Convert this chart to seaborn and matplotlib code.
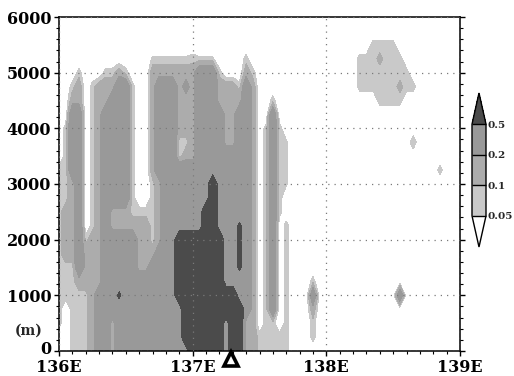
import numpy as np
import matplotlib
matplotlib.use("Agg")
import matplotlib.pyplot as plt
import matplotlib.transforms as mtransforms
from matplotlib.ticker import MultipleLocator
import seaborn as sns

sns.set_theme(style="ticks")
plt.rcParams["font.family"] = "DejaVu Serif"
plt.rcParams["font.weight"] = "bold"

# ---------------------------------------------------------
# Data: shaded field.
# One string per longitude (136E..139E every 0.05 deg),
# characters go bottom -> top every 250 m (0..6000 m).
# ---------------------------------------------------------
lons = np.linspace(136.0, 139.0, 61)
heights = np.arange(0, 6001, 250)

code_values = {"0": 0.0, "a": 0.06, "1": 0.075, "c": 0.095, "b": 0.12,
               "2": 0.15, "d": 0.25, "3": 0.35, "5": 0.55, "4": 0.8}

columns = [
    "0011111111111100000000000",  # 136.00
    "0000111222211111100000000",
    "1111111222222333332100000",
    "1111123333333333332210000",
    "1111122210000000000000000",
    "2222222221111111111100000",  # 136.25
    "3333322222222222222200000",
    "3333333333333333332210000",
    "2223333332233333333210000",
    "3333533332233333333320000",
    "3333333332233333333310000",  # 136.50
    "3333333332111111111100000",
    "3333332222100000000000000",
    "3333332222100000000000000",
    "333333321111122222222a000",
    "333333332222233333332a000",  # 136.75
    "333333333333333333332a000",
    "333333333333333333332a000",
    "333344444333331122222a000",
    "3444444443333321222d2a000",
    "4444444443333322222221000",  # 137.00
    "444444444333333333333a000",
    "444444444443333333333a000",
    "444444444444433333333a000",
    "4444444443333333332210000",
    "3334433333333332222200000",  # 137.25
    "4444433333333332222200000",
    "4444335555333333332100000",
    "2223333333333333333321000",
    "2222222222222222222210000",
    "1100000000000000000000000",  # 137.50
    "1111111111111111100000000",
    "1113333333333333331000000",
    "1100000000111111100000000",
    "111111111100aaaa000000000",
    "0000000000000000000000000",  # 137.75
    "0000000000000000000000000",
    "0000000000000000000000000",
    "0112310000000000000000000",
    "0000000000000000000000000",
    "0000000000000000000000000",  # 138.00
    "0000000000000000000000000",
    "0000000000000000000000000",
    "0000000000000000000000000",
    "0000000000000000000000000",
    "0000000000000000000111000",  # 138.25
    "0000000000000000000111000",
    "0000000000000000000111100",
    "000000000000000000111b100",
    "0000000000000000001111100",
    "0000000000000000001111100",  # 138.50
    "0000300000000000001b11000",
    "0000000000000000000110000",
    "000000000000000c000100000",
    "0000000000000000000000000",
    "0000000000000000000000000",  # 138.75
    "0000000000000000000000000",
    "0000000000000100000000000",
    "0000000000000000000000000",
    "0000000000000000000000000",
    "0000000000000000000000000",  # 139.00
]

levels = [0.05, 0.1, 0.2, 0.5]
level_labels = ["0.05", "0.1", "0.2", "0.5"]
# below 0.05, three inner bands, above 0.5
shades = ["#ffffff", "#c9c9c9", "#acacac", "#999999", "#4b4b4b"]

xticks = [136, 137, 138, 139]
xtick_labels = ["136E", "137E", "138E", "139E"]
yticks = [0, 1000, 2000, 3000, 4000, 5000, 6000]

station_lon = 137.29
station_height = -150

# ---------------------------------------------------------
# Build grid
# ---------------------------------------------------------
for c in columns:
    if len(c) != len(heights):
        raise ValueError("bad column " + c)
Z = np.array([[code_values[ch] for ch in col] for col in columns]).T

# ---------------------------------------------------------
# Plot
# ---------------------------------------------------------
fig = plt.figure(figsize=(5.14, 3.76), dpi=100)
ax = fig.add_axes([59 / 514, 25 / 376, 401 / 514, 334 / 376])

cs = ax.contourf(lons, heights, Z, levels=levels, colors=shades, extend="both")

ax.set_xlim(136, 139)
ax.set_ylim(0, 6000)
ax.set_xticks(xticks)
ax.set_xticklabels(xtick_labels)
ax.set_yticks(yticks)
ax.xaxis.set_minor_locator(MultipleLocator(0.1))
ax.yaxis.set_minor_locator(MultipleLocator(200))
ax.tick_params(which="major", direction="out", length=3.5, width=1.0,
               labelsize=11.5, pad=2.0, right=True, colors="black")
ax.tick_params(which="minor", direction="out", length=2, width=0.8,
               right=True, colors="black")
ax.tick_params(axis="x", which="major", pad=2.6)
for lab in ax.get_xticklabels() + ax.get_yticklabels():
    lab.set_fontweight("bold")
for sp in ax.spines.values():
    sp.set_visible(True)
    sp.set_color("black")
    sp.set_linewidth(1.1)

# lift the "0" height label a little so it clears the 136E label
zero_lab = ax.yaxis.get_major_ticks()[0].label1
zero_lab.set_transform(zero_lab.get_transform()
                       + mtransforms.ScaledTranslation(0, 4 / 100, fig.dpi_scale_trans))

ax.grid(which="major", color="#7a7a7a", linestyle=(0, (1, 4)), linewidth=0.9)
ax.set_axisbelow(False)

ax.plot([station_lon], [station_height], marker="^", ms=10, mfc="white",
        mec="black", mew=2.6, clip_on=False, zorder=6)

ax.text(-0.075, 0.06, "(m)", transform=ax.transAxes, ha="center",
        va="center", fontsize=10, fontweight="bold")

cax = fig.add_axes([472 / 514, 129 / 376, 14 / 514, 154 / 376])
cb = fig.colorbar(cs, cax=cax, extendfrac=0.34, drawedges=True)
cb.set_ticks(levels)
cb.set_ticklabels(level_labels)
cb.ax.tick_params(length=0, labelsize=7.5, pad=1)
for lab in cb.ax.get_yticklabels():
    lab.set_fontweight("bold")
cb.outline.set_linewidth(1.0)
cb.outline.set_edgecolor("black")
cb.dividers.set_color("black")
cb.dividers.set_linewidth(1.0)

fig.savefig("out.png", dpi=100)
